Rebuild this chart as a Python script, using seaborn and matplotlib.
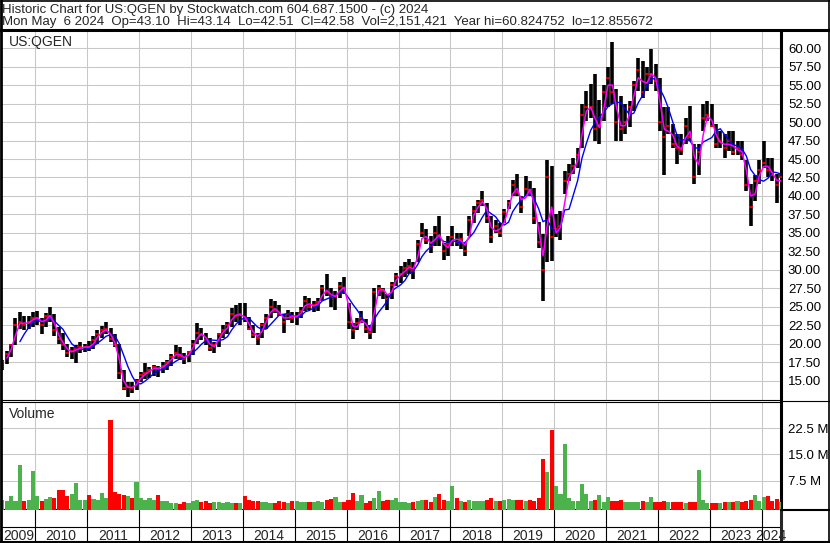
import pandas as pd
import numpy as np
import matplotlib
matplotlib.use("Agg")
import matplotlib.pyplot as plt
from matplotlib.lines import Line2D
import seaborn as sns

sns.set_style("white")
plt.rcParams["font.family"] = ["Liberation Sans", "DejaVu Sans"]

# monthly bars, May 2009 .. May 2024
start_month = "2009-05-01"

highs = [
    17.8, 19.0, 20.0, 23.5, 24.3, 23.8, 23.8, 24.3,
    24.5, 23.5, 24.2, 25.0, 24.0, 22.3, 21.5, 20.0, 19.5, 19.8, 20.2, 20.0,
    20.4, 21.0, 21.8, 22.4, 23.0, 22.2, 21.3, 20.0, 16.5, 14.8, 14.8, 15.2,
    16.2, 17.4, 16.8, 17.1, 17.0, 17.5, 17.8, 18.6, 19.8, 19.5, 18.8, 19.0,
    20.5, 22.8, 22.2, 21.5, 20.8, 20.2, 21.5, 22.5, 23.0, 24.8, 25.3, 25.5,
    25.5, 23.6, 22.5, 21.5, 22.8, 24.0, 26.0, 25.8, 25.2, 24.0, 24.6, 24.3,
    24.3, 25.0, 26.4, 26.2, 25.8, 26.2, 28.0, 29.4, 27.5, 27.2, 28.3, 29.0,
    25.5, 22.8, 23.5, 24.5, 23.3, 22.5, 27.5, 28.0, 27.6, 26.8, 28.3, 29.6,
    30.5, 31.0, 31.5, 31.0, 34.1, 36.4, 35.5, 34.6, 36.0, 37.3, 33.7, 34.6,
    36.0, 35.0, 35.0, 33.7, 37.3, 38.6, 39.5, 40.7, 39.0, 37.3, 36.8, 36.4,
    38.2, 39.5, 42.2, 43.0, 40.0, 42.7, 42.0, 41.1, 36.5, 34.8, 44.8, 44.0,
    37.5, 38.0, 43.4, 44.3, 45.2, 46.5, 52.5, 54.2, 55.2, 56.5, 53.0, 55.0,
    57.5, 60.8, 54.5, 53.5, 52.4, 52.9, 55.6, 58.7, 58.3, 57.4, 59.9, 57.8,
    56.0, 52.0, 52.0, 49.7, 48.4, 48.4, 50.6, 52.2, 47.0, 47.0, 52.4, 52.9,
    52.4, 49.7, 48.8, 48.4, 48.8, 48.8, 47.5, 47.5, 44.8, 41.6, 42.9, 44.8,
    47.5, 45.2, 45.2, 43.0, 43.14,
]

lows = [
    16.5, 17.3, 18.2, 19.8, 22.0, 21.8, 22.0, 22.3,
    22.5, 21.3, 22.3, 23.0, 21.0, 20.0, 19.2, 18.2, 18.0, 17.4, 18.8, 18.9,
    19.0, 19.3, 20.0, 20.8, 21.3, 20.3, 19.5, 15.2, 13.8, 12.86, 13.4, 13.8,
    14.8, 15.2, 15.4, 15.7, 15.5, 16.0, 16.4, 17.0, 18.0, 17.8, 17.3, 17.5,
    18.5, 20.0, 20.5, 19.8, 19.0, 18.8, 19.5, 20.8, 21.3, 22.3, 23.0, 22.5,
    23.0, 21.8, 20.8, 19.9, 20.8, 22.0, 23.5, 24.2, 23.7, 21.5, 23.2, 22.8,
    22.5, 23.5, 24.5, 24.6, 24.3, 24.5, 25.8, 26.5, 25.0, 24.6, 26.2, 26.8,
    22.0, 20.6, 21.8, 22.8, 21.5, 20.6, 21.5, 26.5, 26.0, 24.6, 26.0, 27.8,
    28.2, 29.0, 29.5, 28.7, 31.0, 34.5, 33.5, 32.3, 33.2, 33.2, 31.4, 31.9,
    33.2, 33.2, 32.8, 31.9, 34.6, 36.4, 37.7, 38.6, 36.4, 33.7, 35.0, 34.5,
    36.4, 38.2, 40.0, 40.0, 37.7, 40.0, 40.0, 36.2, 33.0, 25.8, 31.0, 31.2,
    34.4, 34.0, 40.2, 42.0, 43.0, 43.8, 46.5, 50.2, 50.6, 47.5, 47.0, 50.2,
    52.0, 52.5, 47.5, 47.5, 48.4, 49.3, 51.5, 54.2, 53.3, 54.2, 55.1, 54.2,
    48.8, 42.8, 48.4, 46.5, 44.3, 45.6, 47.0, 47.5, 41.6, 42.9, 48.8, 50.2,
    49.3, 46.5, 46.5, 45.2, 46.1, 45.6, 45.6, 44.8, 40.7, 36.0, 39.3, 41.6,
    43.8, 42.5, 42.0, 39.1, 42.51,
]

closes = [
    17.5, 18.6, 19.8, 22.5, 23.0, 22.6, 23.0, 23.5,
    23.5, 22.5, 23.8, 23.8, 21.8, 20.6, 19.8, 18.8, 19.0, 19.3, 19.5, 19.6,
    19.5, 20.5, 21.3, 21.8, 22.0, 20.6, 19.8, 16.0, 14.0, 14.2, 14.0, 14.9,
    15.8, 16.0, 16.5, 16.8, 16.6, 17.0, 17.5, 18.2, 18.8, 18.3, 18.0, 18.9,
    20.0, 21.5, 21.2, 20.5, 19.4, 19.8, 21.3, 21.8, 22.5, 24.0, 23.8, 24.0,
    23.3, 22.0, 21.2, 20.8, 22.5, 23.5, 25.0, 24.5, 24.0, 23.0, 24.0, 23.5,
    23.8, 24.5, 25.8, 25.0, 25.2, 25.6, 27.5, 27.0, 26.3, 26.5, 27.8, 27.5,
    23.0, 21.8, 22.8, 23.5, 22.0, 21.5, 27.0, 27.5, 27.2, 26.0, 28.0, 29.2,
    29.4, 30.2, 30.5, 29.8, 33.5, 35.0, 34.0, 33.2, 35.0, 34.5, 32.5, 33.5,
    34.5, 33.8, 34.2, 32.5, 36.8, 38.0, 39.0, 39.5, 37.0, 34.5, 36.0, 35.0,
    37.8, 39.0, 41.5, 40.5, 38.5, 41.0, 40.8, 37.0, 33.8, 30.0, 42.5, 34.5,
    35.5, 36.0, 42.0, 43.0, 44.0, 45.5, 51.0, 52.0, 52.0, 49.0, 49.5, 54.0,
    56.0, 54.0, 50.0, 49.0, 50.0, 52.0, 55.0, 57.0, 54.0, 56.5, 56.5, 55.5,
    50.0, 48.0, 49.5, 47.0, 46.5, 46.2, 49.5, 48.0, 42.5, 46.0, 50.5, 51.0,
    49.5, 47.0, 47.5, 46.5, 47.5, 46.0, 46.5, 45.5, 41.5, 38.5, 42.0, 43.5,
    44.5, 43.5, 42.8, 41.5, 42.58,
]

# biggest daily volume seen in each month, millions
volumes = [
    2.0, 1.5, 3.0, 1.5, 11.9, 1.5, 1.8, 10.1,
    3.0, 1.5, 2.2, 2.8, 2.5, 4.9, 4.8, 3.0, 3.6, 6.7, 2.0, 1.8,
    3.4, 2.2, 2.0, 3.9, 2.5, 25.0, 4.2, 3.5, 3.4, 3.0, 2.5, 7.1,
    2.5, 2.0, 2.4, 2.0, 3.2, 1.5, 1.5, 1.0, 1.0, 0.8, 1.2, 1.0,
    1.5, 1.8, 1.2, 1.6, 1.0, 1.2, 1.2, 0.9, 1.3, 1.0, 1.0, 1.1,
    3.0, 2.0, 1.6, 1.5, 1.2, 1.2, 1.0, 1.0, 1.5, 1.2, 1.0, 1.5,
    1.6, 1.4, 1.4, 1.2, 1.3, 1.5, 1.4, 1.8, 2.1, 2.8, 1.2, 1.3,
    2.0, 3.8, 1.5, 3.2, 1.0, 1.5, 2.5, 4.5, 1.5, 1.8, 2.0, 2.5,
    1.3, 1.2, 1.0, 1.3, 1.5, 1.8, 1.8, 1.2, 2.8, 3.7, 1.8, 1.5,
    5.8, 2.5, 1.5, 1.2, 2.0, 1.5, 1.7, 1.5, 2.0, 2.5, 1.7, 1.5,
    2.0, 2.2, 1.8, 2.0, 2.0, 1.5, 1.8, 1.5, 2.5, 13.8, 10.0, 22.1,
    5.8, 3.5, 18.0, 2.5, 1.5, 1.5, 6.5, 3.5, 1.5, 1.8, 3.4, 1.2,
    2.8, 1.5, 1.5, 1.8, 1.2, 1.3, 1.4, 1.2, 1.5, 1.2, 2.8, 1.3,
    1.3, 1.5, 1.2, 1.2, 1.2, 1.2, 1.0, 1.2, 1.3, 10.6, 1.8, 1.0,
    1.0, 0.9, 1.0, 1.2, 1.3, 1.2, 1.5, 1.4, 1.5, 2.0, 3.3, 1.5,
    2.8, 3.0, 1.7, 2.2, 1.3,
]

years = list(range(2009, 2025))
price_ticks = [15.0, 17.5, 20.0, 22.5, 25.0, 27.5, 30.0, 32.5, 35.0, 37.5,
               40.0, 42.5, 45.0, 47.5, 50.0, 52.5, 55.0, 57.5, 60.0]
volume_ticks = [7.5, 15.0, 22.5]

header_1 = "Historic Chart for US:QGEN by Stockwatch.com 604.687.1500 - (c) 2024"
header_2 = ("Mon May  6 2024  Op=43.10  Hi=43.14  Lo=42.51  Cl=42.58  "
            "Vol=2,151,421  Year hi=60.824752  lo=12.855672")

df = pd.DataFrame({"high": highs, "low": lows, "close": closes, "volume": volumes})
df["date"] = pd.date_range(start_month, periods=len(df), freq="MS") + pd.Timedelta(days=14)
df["ma_short"] = df["close"].rolling(2).mean()
df["ma_long"] = df["close"].rolling(5).mean()
df["up"] = df["close"].diff().fillna(0) >= 0

x_start = pd.Timestamp("2009-05-12")
x_end = pd.Timestamp("2024-05-16")
grid_col = "#c8c8c8"
red = "#ff0000"
green = "#4cb24c"

W, H = 830, 543


def box(l, t, r, b):
    return [l / W, 1 - b / H, (r - l) / W, (b - t) / H]


def px(x, y):
    return x / W, 1 - y / H


fig = plt.figure(figsize=(8.3, 5.43), dpi=100)
ax_p = fig.add_axes(box(2, 31, 781, 399.5))
ax_v = fig.add_axes(box(2, 401.5, 781, 509.5))
ax_d = fig.add_axes(box(2, 509.5, 781, 542))

year_starts = [pd.Timestamp(f"{y}-01-01") for y in years[1:]]

# price panel
ax_p.vlines(df["date"], df["low"], df["high"], color="black", lw=2.6, zorder=3)
ax_p.plot(df["date"], df["close"], ls="none", marker="_", ms=3, mew=1.2,
          color=red, zorder=4)
sns.lineplot(data=df, x="date", y="ma_long", color="#0000ff", lw=1.0, ax=ax_p, zorder=5)
sns.lineplot(data=df, x="date", y="ma_short", color="#ff00ff", lw=1.1, ax=ax_p, zorder=6)
ax_p.set_ylim(12.46, 62.32)
ax_p.set_yticks(price_ticks)
ax_p.set_yticklabels([f"{v:.2f}" for v in price_ticks])

# volume panel
vol_floor = -0.83
ax_v.bar(df["date"], df["volume"] - vol_floor, bottom=vol_floor, width=29,
         color=[green if u else red for u in df["up"]], linewidth=0, zorder=3)
ax_v.set_ylim(vol_floor, 30.2)
ax_v.set_yticks(volume_ticks)
ax_v.set_yticklabels([f"{v:.1f} M" for v in volume_ticks])

for ax in (ax_p, ax_v):
    ax.set_xlim(x_start, x_end)
    ax.set_xticks(year_starts)
    ax.set_xticklabels([])
    ax.set_xlabel("")
    ax.set_ylabel("")
    ax.yaxis.tick_right()
    ax.tick_params(axis="both", length=0)
    ax.tick_params(axis="y", pad=5, labelsize=9.5, labelcolor="black")
    ax.grid(True, color=grid_col, lw=0.75, zorder=0)
    ax.set_axisbelow(True)
    for s in ax.spines.values():
        s.set_color("black")
    ax.spines["left"].set_visible(False)
    ax.spines["right"].set_linewidth(2.2)

ax_p.spines["top"].set_visible(False)
ax_p.spines["bottom"].set_linewidth(0.8)
ax_v.spines["top"].set_linewidth(0.8)
ax_v.spines["bottom"].set_linewidth(1.5)

# date strip
ax_d.set_xlim(x_start, x_end)
ax_d.set_ylim(0, 1)
ax_d.set_xticks([])
ax_d.set_yticks([])
for s in ax_d.spines.values():
    s.set_visible(False)
ax_d.spines["right"].set_visible(True)
ax_d.spines["right"].set_linewidth(2.2)
ax_d.axhline(0.46, color="black", lw=0.8)
for d in year_starts:
    ax_d.axvline(d, color="black", lw=0.8)
edges = [x_start] + year_starts + [x_end]
for y, a, b in zip(years, edges[:-1], edges[1:]):
    ax_d.text(a + (b - a) / 2, 0.2, str(y), ha="center", va="center",
              fontsize=10, clip_on=False, zorder=1)

# frame, header and panel captions
def fline(x0, y0, x1, y1, lw):
    (a, b), (c, d) = px(x0, y0), px(x1, y1)
    fig.add_artist(Line2D([a, c], [b, d], color="black", lw=lw))


fline(0.5, 0.5, 829.5, 0.5, 1.2)
fline(0.8, 0, 0.8, 543, 2.0)
fline(829.2, 0, 829.2, 543, 1.2)
fline(0, 542, 830, 542, 1.5)
fline(0, 30, 830, 30, 2.2)
fline(781, 400.5, 830, 400.5, 0.8)
fline(781, 509.5, 830, 509.5, 1.5)

fig.text(*px(1.5, 13), header_1, fontsize=9.5, va="baseline")
fig.text(*px(1.5, 25.5), header_2, fontsize=9.5, va="baseline")
fig.text(*px(9, 46), "US:QGEN", fontsize=10, va="baseline")
fig.text(*px(9, 418), "Volume", fontsize=10, va="baseline")

fig.savefig("out.png", dpi=100)
